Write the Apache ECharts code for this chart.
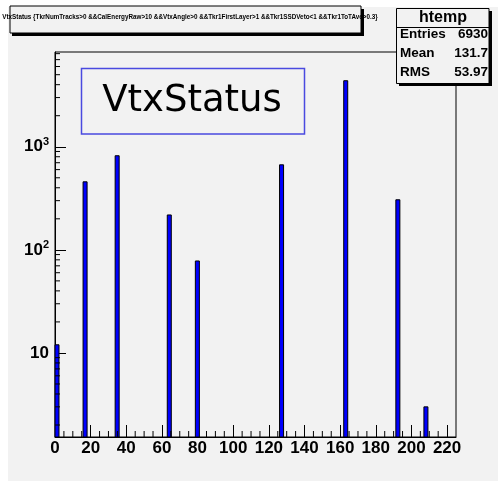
<!DOCTYPE html>
<html>
<head>
<meta charset="utf-8">
<script src="https://cdn.jsdelivr.net/npm/echarts@6/dist/echarts.min.js"></script>
<style>
html,body{margin:0;padding:0;background:#ffffff;}
#chart{width:498px;height:481px;}
</style>
</head>
<body>
<div id="chart"></div>
<script>
// ---- data ----
const binLow = [0, 15.75, 33.75, 63, 78.75, 126, 162, 191.25, 207];
const binWidth = 2.25;
const counts = [12, 457, 818, 218, 78, 668, 4370, 306, 3];
const xMin = 0, xMax = 225;
const yMin = 1.53, yMax = 8300;
const xTickLabels = ['0','20','40','60','80','100','120','140','160','180','200','220'];
const statsTitle = 'htemp';
const statsNames = ['Entries', 'Mean', 'RMS'];
const statsValues = ['6930', '131.7', '53.97'];
const histTitle = 'VtxStatus {TkrNumTracks>0 &&CalEnergyRaw>10 &&VtxAngle>0 &&Tkr1FirstLayer>1 &&Tkr1SSDVeto<1 &&Tkr1ToTAve>0.3}';
const boxLabel = 'VtxStatus';

// minor tick positions (axis decoration, not data)
const xMinor = [];
for (let v = 5; v < 220; v += 5) if (v % 20 !== 0) xMinor.push([v, yMin]);
const yMinor = [];
for (let k = 0; k <= 3; k++) for (let m = 2; m <= 9; m++) {
  const v = m * Math.pow(10, k);
  if (v > yMin && v < yMax) yMinor.push([xMin, v]);
}

const bars = binLow.map((lo, i) => [lo, lo + binWidth, counts[i]]);

const chart = echarts.init(document.getElementById('chart'), null, {renderer: 'canvas'});
const BG = '#f2f2f2';
const FONT = '"Liberation Sans", Arial, sans-serif';

chart.setOption({
  animation: false,
  backgroundColor: '#ffffff',
  grid: {left: 55, top: 52, width: 401, height: 385, show: true, borderColor: '#000', borderWidth: 1, backgroundColor: 'transparent', containLabel: false},
  xAxis: {
    type: 'value', min: xMin, max: xMax, interval: 20,
    axisLine: {show: true, lineStyle: {color: '#000', width: 1}},
    axisTick: {show: true, inside: true, length: 12, lineStyle: {color: '#000'}},
    axisLabel: {show: true, color: '#000', fontFamily: FONT, fontWeight: 'bold', fontSize: 17, margin: 3, showMaxLabel: false,
      formatter: v => { const s = String(Math.round(v)); return xTickLabels.indexOf(s) >= 0 ? s : ''; }},
    splitLine: {show: false}
  },
  yAxis: {
    type: 'log', logBase: 10, min: yMin, max: yMax,
    axisLine: {show: true, lineStyle: {color: '#000', width: 1}},
    axisTick: {show: true, inside: true, length: 11, lineStyle: {color: '#000'}},
    axisLabel: {show: true, color: '#000', fontFamily: FONT, fontWeight: 'bold', fontSize: 17, margin: 6,
      showMinLabel: false, showMaxLabel: false,
      formatter: v => {
        const e = Math.round(Math.log10(v));
        if (Math.abs(Math.log10(v) - e) > 1e-6) return '';
        if (e === 1) return '10';
        return '10{sup|' + e + '}';
      },
      rich: {sup: {fontSize: 11, fontWeight: 'bold', fontFamily: FONT, color: '#000', verticalAlign: 'top', padding: [0, 0, 10, 0]}}
    },
    splitLine: {show: false}
  },
  series: [
    {
      type: 'custom', name: 'hist', data: bars, z: 3,
      renderItem: (params, api) => {
        const p1 = api.coord([api.value(0), api.value(2)]);
        const p2 = api.coord([api.value(1), yMin]);
        return {type: 'rect', shape: {x: p1[0], y: p1[1], width: p2[0] - p1[0], height: p2[1] - p1[1]},
          style: {fill: '#0000ff', stroke: '#000', lineWidth: 1}};
      }
    },
    {
      type: 'custom', name: 'xminor', data: xMinor, z: 4, silent: true,
      renderItem: (params, api) => {
        const p = api.coord([api.value(0), api.value(1)]);
        return {type: 'line', shape: {x1: p[0], y1: p[1], x2: p[0], y2: p[1] - 6}, style: {stroke: '#000', lineWidth: 1}};
      }
    },
    {
      type: 'custom', name: 'yminor', data: yMinor, z: 4, silent: true,
      renderItem: (params, api) => {
        const p = api.coord([api.value(0), api.value(1)]);
        return {type: 'line', shape: {x1: p[0], y1: p[1], x2: p[0] + 5, y2: p[1]}, style: {stroke: '#000', lineWidth: 1}};
      }
    }
  ],
  graphic: [
    {type: 'rect', z: -10, shape: {x: 8, y: 7, width: 490, height: 474}, style: {fill: BG}},
    // title box
    {type: 'rect', z: 100, shape: {x: 12, y: 9, width: 352, height: 27}, style: {fill: '#000'}},
    {type: 'rect', z: 101, shape: {x: 10, y: 6, width: 351, height: 27}, style: {fill: BG, stroke: '#000', lineWidth: 1}},
    {type: 'text', z: 102, x: 190, y: 17, style: {text: histTitle, fontFamily: FONT, fontWeight: 'bold', fontSize: 6.3, fill: '#000', align: 'center', verticalAlign: 'middle'}},
    // stats box
    {type: 'rect', z: 100, shape: {x: 399, y: 11, width: 93, height: 75}, style: {fill: '#000'}},
    {type: 'rect', z: 101, shape: {x: 396.5, y: 8.5, width: 92.5, height: 75}, style: {fill: BG, stroke: '#000', lineWidth: 1}},
    {type: 'line', z: 102, shape: {x1: 396.5, y1: 27.5, x2: 489, y2: 27.5}, style: {stroke: '#000', lineWidth: 1}},
    {type: 'text', z: 102, x: 443, y: 18, style: {text: statsTitle, fontFamily: FONT, fontWeight: 'bold', fontSize: 16, fill: '#000', align: 'center', verticalAlign: 'middle'}},
    ...statsNames.map((n, i) => ({type: 'text', z: 102, x: 400, y: 34 + i * 19.3, style: {text: n, fontFamily: FONT, fontWeight: 'bold', fontSize: 13.5, fill: '#000', align: 'left', verticalAlign: 'middle'}})),
    ...statsValues.map((n, i) => ({type: 'text', z: 102, x: 488, y: 34 + i * 19.3, style: {text: n, fontFamily: FONT, fontWeight: 'bold', fontSize: 13.5, fill: '#000', align: 'right', verticalAlign: 'middle'}})),
    // VtxStatus label box
    {type: 'rect', z: 100, shape: {x: 81.5, y: 68.5, width: 223, height: 65.5}, style: {fill: BG, stroke: '#4a4ae0', lineWidth: 1.5}},
    {type: 'text', z: 101, x: 192, y: 101.5, style: {text: boxLabel, fontFamily: '"DejaVu Sans", Verdana, sans-serif', fontSize: 37, fill: '#000', align: 'center', verticalAlign: 'middle'}}
  ]
});
</script>
</body>
</html>
